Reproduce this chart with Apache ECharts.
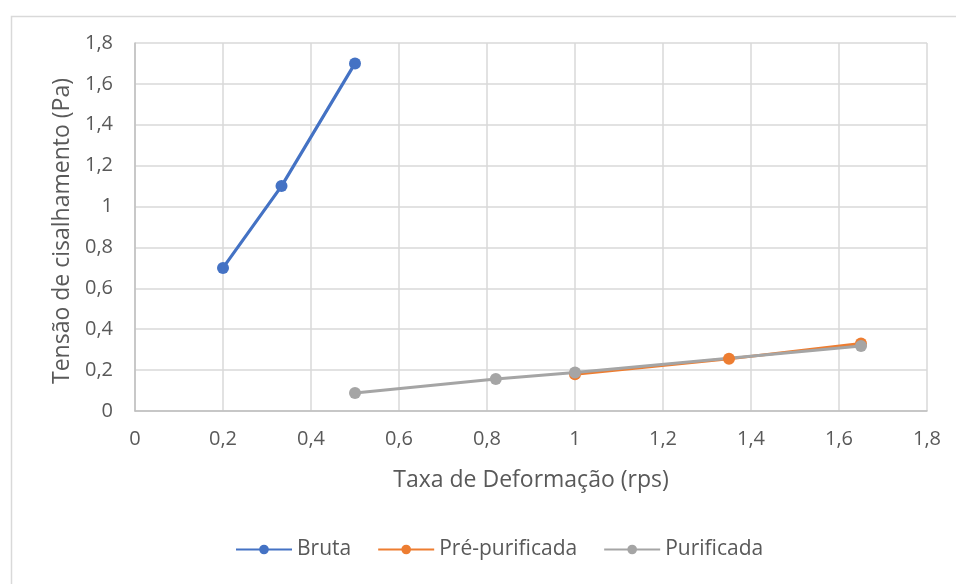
<!DOCTYPE html>
<html>
<head>
<meta charset="utf-8">
<script src="https://cdn.jsdelivr.net/npm/echarts@6/dist/echarts.min.js"></script>
<style>html,body{margin:0;padding:0;background:#fff}#c{width:956px;height:584px}</style>
</head>
<body>
<div id="c"></div>
<script>
var seriesNames = ['Bruta', 'Pré-purificada', 'Purificada'];
var brutaX = [0.2, 0.333, 0.5];
var brutaY = [0.70, 1.10, 1.70];
var preX = [1.0, 1.35, 1.65];
var preY = [0.18, 0.255, 0.33];
var purX = [0.5, 0.82, 1.0, 1.65];
var purY = [0.088, 0.157, 0.188, 0.318];
var xTitle = 'Taxa de Deformação (rps)';
var yTitle = 'Tensão de cisalhamento (Pa)';

function pairs(xs, ys) { return xs.map(function (x, i) { return [x, ys[i]]; }); }
function fmt(v) { return String(Math.round(v * 10) / 10).replace('.', ','); }

var font = '"Open Sans", "Noto Sans", sans-serif';
var txt = '#595959';
var colors = ['#4472C4', '#ED7D31', '#A5A5A5'];

var chart = echarts.init(document.getElementById('c'));
chart.setOption({
  animation: false,
  color: colors,
  graphic: [{
    type: 'rect', left: 9, top: 14, shape: { width: 960, height: 600 },
    style: { fill: 'none', stroke: '#d9d9d9', lineWidth: 1.5 }, silent: true
  }],
  grid: { left: 135, top: 43, right: 29, bottom: 173, containLabel: false },
  xAxis: {
    type: 'value', min: 0, max: 1.8, interval: 0.2,
    name: xTitle, nameLocation: 'middle', nameGap: 58,
    nameTextStyle: { color: txt, fontSize: 23, fontFamily: font },
    axisLine: { show: true, lineStyle: { color: '#bfbfbf', width: 1.5 } },
    axisTick: { show: false },
    axisLabel: { color: txt, fontSize: 20, fontFamily: font, margin: 18, formatter: fmt },
    splitLine: { show: true, lineStyle: { color: '#d9d9d9', width: 1.5 } }
  },
  yAxis: {
    type: 'value', min: 0, max: 1.8, interval: 0.2,
    name: yTitle, nameLocation: 'middle', nameGap: 61, nameRotate: 90,
    nameTextStyle: { color: txt, fontSize: 23, fontFamily: font, padding: [0, 0, 0, -8] },
    axisLine: { show: true, lineStyle: { color: '#bfbfbf', width: 1.5 } },
    axisTick: { show: false },
    axisLabel: { color: txt, fontSize: 20, fontFamily: font, margin: 22, formatter: fmt },
    splitLine: { show: true, lineStyle: { color: '#d9d9d9', width: 1.5 } }
  },
  legend: {
    data: seriesNames, bottom: 19, left: 230, itemWidth: 56, itemHeight: 12, itemGap: 26,
    textStyle: { color: txt, fontSize: 21, fontFamily: font }
  },
  series: [
    { name: seriesNames[0], type: 'line', data: pairs(brutaX, brutaY), symbol: 'circle', symbolSize: 12, lineStyle: { width: 3.2 } },
    { name: seriesNames[1], type: 'line', data: pairs(preX, preY), symbol: 'circle', symbolSize: 12, lineStyle: { width: 3 } },
    { name: seriesNames[2], type: 'line', data: pairs(purX, purY), symbol: 'circle', symbolSize: 12, lineStyle: { width: 3 } }
  ]
});
</script>
</body>
</html>
